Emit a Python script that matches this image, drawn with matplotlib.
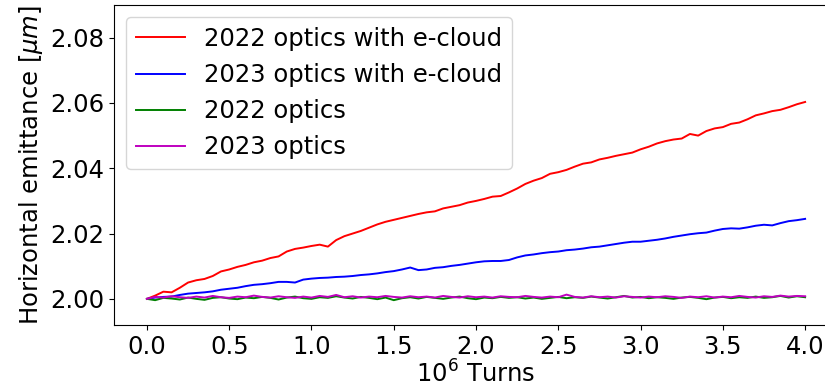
import numpy as np
import matplotlib
matplotlib.use('Agg')
import matplotlib.pyplot as plt

# turns in units of 1e6, sampled every 0.05
turns = np.linspace(0.0, 4.0, 81)

emit_2022_ec = [2.0000, 2.0010, 2.0022, 2.0020, 2.0034, 2.0050, 2.0057, 2.0061, 2.0070, 2.0084,
                2.0090, 2.0098, 2.0104, 2.0112, 2.0117, 2.0125, 2.0130, 2.0145, 2.0153, 2.0157,
                2.0162, 2.0166, 2.0160, 2.0180, 2.0192, 2.0200, 2.0208, 2.0218, 2.0228, 2.0236,
                2.0242, 2.0248, 2.0254, 2.0260, 2.0265, 2.0268, 2.0277, 2.0282, 2.0287, 2.0295,
                2.0300, 2.0306, 2.0313, 2.0315, 2.0326, 2.0338, 2.0352, 2.0362, 2.0370, 2.0383,
                2.0388, 2.0395, 2.0405, 2.0414, 2.0418, 2.0427, 2.0432, 2.0438, 2.0443, 2.0448,
                2.0458, 2.0466, 2.0476, 2.0483, 2.0488, 2.0491, 2.0505, 2.0500, 2.0514, 2.0522,
                2.0526, 2.0536, 2.0540, 2.0550, 2.0562, 2.0568, 2.0575, 2.0579, 2.0587, 2.0596,
                2.0603]

emit_2023_ec = [2.0000, 2.0004, 2.0006, 2.0007, 2.0012, 2.0016, 2.0018, 2.0020, 2.0023, 2.0028,
                2.0031, 2.0034, 2.0039, 2.0043, 2.0045, 2.0048, 2.0052, 2.0052, 2.0050, 2.0059,
                2.0062, 2.0064, 2.0065, 2.0067, 2.0068, 2.0070, 2.0073, 2.0075, 2.0078, 2.0082,
                2.0085, 2.0090, 2.0096, 2.0088, 2.0090, 2.0095, 2.0097, 2.0101, 2.0104, 2.0108,
                2.0112, 2.0115, 2.0116, 2.0116, 2.0119, 2.0127, 2.0133, 2.0136, 2.0140, 2.0143,
                2.0145, 2.0149, 2.0151, 2.0154, 2.0158, 2.0160, 2.0164, 2.0168, 2.0172, 2.0175,
                2.0175, 2.0178, 2.0181, 2.0185, 2.0190, 2.0194, 2.0198, 2.0201, 2.0203, 2.0209,
                2.0214, 2.0216, 2.0215, 2.0219, 2.0224, 2.0227, 2.0225, 2.0232, 2.0238, 2.0241,
                2.0245]

emit_2022 = [2.0000, 1.9996, 2.0003, 2.0001, 1.9998, 2.0004, 2.0000, 1.9997, 2.0003, 2.0005,
             2.0001, 1.9999, 2.0004, 2.0002, 2.0006, 2.0003, 1.9998, 2.0004, 2.0007, 2.0002,
             2.0000, 2.0005, 2.0003, 2.0008, 2.0004, 2.0001, 2.0006, 2.0003, 1.9999, 2.0004,
             1.9996, 2.0002, 2.0005, 2.0001, 2.0006, 2.0003, 2.0000, 2.0004, 2.0007, 2.0002,
             1.9999, 2.0004, 2.0002, 2.0006, 2.0003, 2.0005, 2.0001, 2.0004, 2.0000, 2.0003,
             2.0006, 2.0002, 2.0005, 2.0003, 2.0007, 2.0004, 2.0001, 2.0005, 2.0009, 2.0004,
             2.0006, 2.0002, 2.0005, 2.0003, 2.0000, 2.0004, 2.0006, 2.0003, 1.9999, 2.0004,
             2.0006, 2.0002, 2.0005, 2.0003, 2.0007, 2.0003, 2.0005, 2.0009, 2.0004, 2.0008,
             2.0005]

emit_2023 = [2.0000, 2.0006, 2.0004, 2.0008, 2.0005, 2.0003, 2.0007, 2.0004, 2.0009, 2.0005,
             2.0003, 2.0007, 2.0005, 2.0010, 2.0006, 2.0004, 2.0008, 2.0005, 2.0003, 2.0007,
             2.0004, 2.0009, 2.0006, 2.0012, 2.0005, 2.0008, 2.0004, 2.0007, 2.0005, 2.0009,
             2.0006, 2.0004, 2.0008, 2.0005, 2.0007, 2.0004, 2.0009, 2.0006, 2.0004, 2.0008,
             2.0005, 2.0007, 2.0004, 2.0008, 2.0006, 2.0005, 2.0009, 2.0006, 2.0004, 2.0007,
             2.0005, 2.0013, 2.0006, 2.0004, 2.0008, 2.0005, 2.0007, 2.0004, 2.0008, 2.0006,
             2.0004, 2.0007, 2.0005, 2.0008, 2.0006, 2.0003, 2.0007, 2.0005, 2.0008, 2.0004,
             2.0007, 2.0005, 2.0009, 2.0006, 2.0004, 2.0008, 2.0006, 2.0010, 2.0007, 2.0009,
             2.0008]

labels = ['2022 optics with e-cloud', '2023 optics with e-cloud', '2022 optics', '2023 optics']
colors = ['r', 'b', 'g', 'm']

fig = plt.figure(figsize=(8.25, 3.9), dpi=100)
ax = fig.add_axes([0.1382, 0.1667, 0.8776, 0.8205])

for y, lab, c in zip([emit_2022_ec, emit_2023_ec, emit_2022, emit_2023], labels, colors):
    ax.plot(turns, y, color=c, lw=1.4, label=lab)

ax.set_xlim(-0.2, 4.2)
ax.set_ylim(1.992, 2.09)
ax.set_xticks(np.arange(0, 4.01, 0.5))
ax.set_yticks([2.00, 2.02, 2.04, 2.06, 2.08])
ax.tick_params(labelsize=17.5)
ax.set_xlabel('$10^6$ Turns', fontsize=17.5, labelpad=1)
ax.set_ylabel(r'Horizontal emittance [$\mu m$]', fontsize=17.5)
ax.legend(loc='upper left', fontsize=17.5)

plt.savefig('out.png', dpi=100)
